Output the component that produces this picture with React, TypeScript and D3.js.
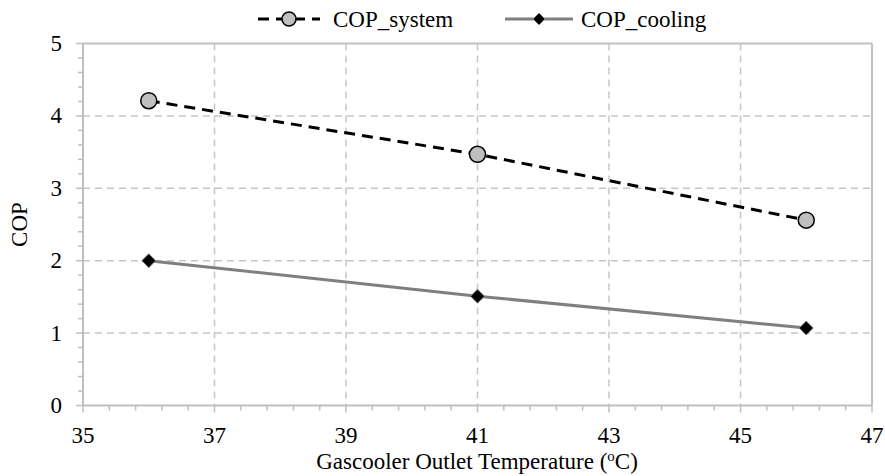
import React from "react";
import * as d3 from "d3";

const xValues = [36, 41, 46];
const copSystem = [4.21, 3.47, 2.56];
const copCooling = [2.0, 1.51, 1.07];
const xTicks = [35, 37, 39, 41, 43, 45, 47];
const yTicks = [0, 1, 2, 3, 4, 5];
const seriesNames = ["COP_system", "COP_cooling"];

const W = 885;
const H = 476;
const M = { left: 83, right: 872, top: 43.5, bottom: 405.5 };
const FONT = '"Liberation Serif", "Times New Roman", Times, serif';
const AXIS = "#bfbfbf";
const GRID = "#c6c6c6";
const FS = 23;

export default function App() {
  const x = d3.scaleLinear().domain([35, 47]).range([M.left, M.right]);
  const y = d3.scaleLinear().domain([0, 5]).range([M.bottom, M.top]);
  const line = d3
    .line<number>()
    .x((_, i) => x(xValues[i]))
    .y((d) => y(d));
  const yMinor = d3.range(0, 5.001, 0.2);
  const diamond = (cx: number, cy: number, r: number) =>
    `M${cx},${cy - r}L${cx + r},${cy}L${cx},${cy + r}L${cx - r},${cy}Z`;
  const ts: React.CSSProperties = { fontFamily: FONT };

  return (
    <svg width={W} height={H} style={{ position: "absolute", left: 0, top: 0, background: "#fff", fontFamily: FONT }}>
      {yTicks.slice(1, -1).map((t) => (
        <line key={"gy" + t} x1={M.left} x2={M.right} y1={y(t)} y2={y(t)} stroke={GRID} strokeWidth={1.5} strokeDasharray="7,5" />
      ))}
      {xTicks.slice(1, -1).map((t) => (
        <line key={"gx" + t} x1={x(t)} x2={x(t)} y1={M.top} y2={M.bottom} stroke={GRID} strokeWidth={1.5} strokeDasharray="7,5" />
      ))}
      <line x1={M.left} x2={M.right} y1={M.top} y2={M.top} stroke={AXIS} strokeWidth={2} />
      <line x1={M.right} x2={M.right} y1={M.top} y2={M.bottom} stroke={AXIS} strokeWidth={2} />
      <line x1={M.left} x2={M.right} y1={M.bottom} y2={M.bottom} stroke={AXIS} strokeWidth={2} />
      <line x1={M.left} x2={M.left} y1={M.top} y2={M.bottom} stroke={AXIS} strokeWidth={2} />
      {yMinor.map((t, i) => (
        <line key={"ym" + i} x1={M.left - (i % 5 === 0 ? 7 : 5)} x2={M.left} y1={y(t)} y2={y(t)} stroke={AXIS} strokeWidth={1.5} />
      ))}
      {d3.range(35, 47.001, 0.4).map((t, i) => (
        <line key={"xm" + i} x1={x(t)} x2={x(t)} y1={M.bottom} y2={M.bottom + (i % 5 === 0 ? 7 : 5)} stroke={AXIS} strokeWidth={1.5} />
      ))}
      {yTicks.map((t) => (
        <text key={"yl" + t} x={62} y={y(t)} dy="0.33em" textAnchor="end" fontSize={FS} fill="#000" style={ts}>
          {t}
        </text>
      ))}
      {xTicks.map((t) => (
        <text key={"xl" + t} x={x(t)} y={443} textAnchor="middle" fontSize={FS} fill="#000" style={ts}>
          {t}
        </text>
      ))}
      <text x={477} y={469} textAnchor="middle" fontSize={FS} fill="#000" style={ts}>
        Gascooler Outlet Temperature (<tspan fontSize={15} dy={-8}>o</tspan><tspan dy={8}>C)</tspan>
      </text>
      <text transform={`translate(27,${(M.top + M.bottom) / 2}) rotate(-90)`} textAnchor="middle" fontSize={FS} fill="#000" style={ts}>
        COP
      </text>
      <path d={line(copSystem) || ""} fill="none" stroke="#000" strokeWidth={3} strokeDasharray="11,7" />
      <path d={line(copCooling) || ""} fill="none" stroke="#7f7f7f" strokeWidth={3} />
      {copSystem.map((v, i) => (
        <circle key={"c" + i} cx={x(xValues[i])} cy={y(v)} r={8} fill="#bfbfbf" stroke="#000" strokeWidth={1.5} />
      ))}
      {copCooling.map((v, i) => (
        <path key={"d" + i} d={diamond(x(xValues[i]), y(v), 7)} fill="#000" stroke="#8a8a8a" strokeWidth={1} />
      ))}
      <line x1={258} x2={320} y1={19} y2={19} stroke="#000" strokeWidth={3} strokeDasharray="11,7" />
      <circle cx={289} cy={19} r={7} fill="#bfbfbf" stroke="#000" strokeWidth={1.5} />
      <text x={333} y={19} dy="0.33em" fontSize={FS} fill="#000" style={ts}>{seriesNames[0]}</text>
      <line x1={505} x2={573} y1={19} y2={19} stroke="#7f7f7f" strokeWidth={3} />
      <path d={diamond(539, 19, 6)} fill="#000" stroke="#8a8a8a" strokeWidth={1} />
      <text x={581} y={19} dy="0.33em" fontSize={FS} fill="#000" style={ts}>{seriesNames[1]}</text>
    </svg>
  );
}
